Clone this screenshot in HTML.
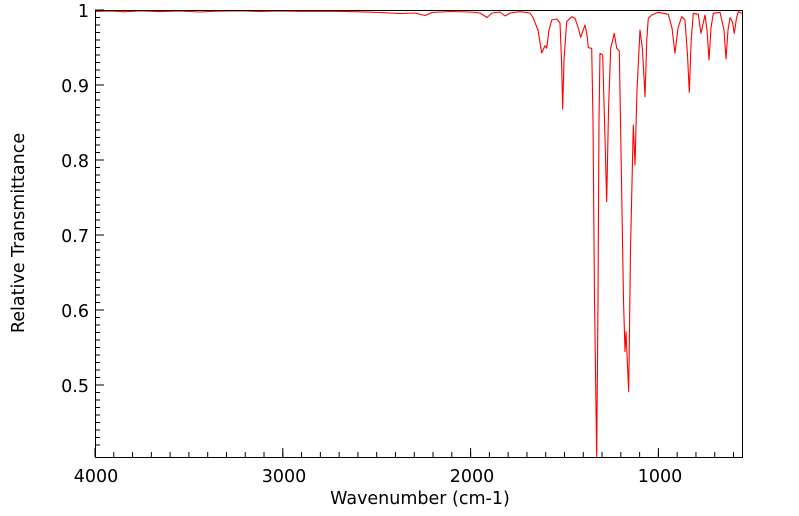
<!DOCTYPE html>
<html><head><meta charset="utf-8"><style>
html,body{margin:0;padding:0;background:#fff;}
svg{display:block;font-family:"DejaVu Sans","Liberation Sans",sans-serif;}
</style></head><body>
<svg width="799" height="516" viewBox="0 0 799 516" xmlns="http://www.w3.org/2000/svg">
<rect width="799" height="516" fill="#fff"/>
<polyline fill="none" stroke="#ff0000" stroke-width="1.1" stroke-linejoin="round" points="
95,11.5 110,11 125,11.8 140,10.8 160,11.6 180,11 200,12 215,11.2 240,10.8 260,11.5 280,11 300,11.3 330,11.2 360,11.8 380,12.5 400,13.5 415,13 425,15.5 432,12.5 450,11.5 470,12 480,13 487,17.5 492,13 500,12 505,16 510,13 520,11.7 530,13 533,17.7 538,30 541.7,53 545,45.7 546.7,48.3 549,30 551.7,20 556.7,19 560,23 561.5,60 562.7,109 564,60 566.7,21.7 571.7,16.7 575,18.3 578,27 580.7,37.3 585,25 587,35 588.3,47.7 591.7,48.3 593,120 594.5,300 596.7,457 598,300 599,120 600,53.3 602.7,55 604.5,120 606.7,201.7 608.5,110 610.7,48.3 614.3,33.3 616.7,48.3 619.3,51 621.5,180 623.5,300 625,351.7 626,331.7 628.7,391.7 630.5,250 633.3,125 635,165 637,90 640,30 642.5,50 645,96.7 646.8,40 648.3,18.3 651.7,15 658.3,12.3 668.3,14.3 672,28 675,53.3 678,28 681.7,16.7 685,20 687.5,55 689.3,92.3 691.2,40 693.3,13.3 698.3,14.3 701,33.3 705,15 707,30 709,60 711,28 713.3,13.3 720,12.3 724,30 726,59 728,30 730,17.7 732.5,22 734.3,33.3 736.5,18 738.3,11.7 742,13.3"/>
<g stroke="#000" stroke-width="1" fill="none">
<path d="M95,457v-5m18.78,5v-5m18.78,5v-5m18.78,5v-5m18.78,5v-5m18.78,5v-5m18.78,5v-5m18.78,5v-5m18.78,5v-5m18.78,5v-5m18.78,5v-5m18.78,5v-5m18.78,5v-5m18.78,5v-5m18.78,5v-5m18.78,5v-5m18.78,5v-5m18.78,5v-5m18.78,5v-5m18.78,5v-5m18.78,5v-5m18.78,5v-5m18.78,5v-5m18.78,5v-5m18.78,5v-5m18.78,5v-5m18.78,5v-5m18.78,5v-5m18.78,5v-5m18.78,5v-5m18.78,5v-5m18.78,5v-5m18.78,5v-5m18.78,5v-5m18.78,5v-5"/>
<path d="M95,457v-9M282.8,457v-9M470.6,457v-9M658.4,457v-9"/>
<path d="M95,10h5m-5,7.5h5m-5,7.5h5m-5,7.5h5m-5,7.5h5m-5,7.5h5m-5,7.5h5m-5,7.5h5m-5,7.5h5m-5,7.5h5m-5,7.5h5m-5,7.5h5m-5,7.5h5m-5,7.5h5m-5,7.5h5m-5,7.5h5m-5,7.5h5m-5,7.5h5m-5,7.5h5m-5,7.5h5m-5,7.5h5m-5,7.5h5m-5,7.5h5m-5,7.5h5m-5,7.5h5m-5,7.5h5m-5,7.5h5m-5,7.5h5m-5,7.5h5m-5,7.5h5m-5,7.5h5m-5,7.5h5m-5,7.5h5m-5,7.5h5m-5,7.5h5m-5,7.5h5m-5,7.5h5m-5,7.5h5m-5,7.5h5m-5,7.5h5m-5,7.5h5m-5,7.5h5m-5,7.5h5m-5,7.5h5m-5,7.5h5m-5,7.5h5m-5,7.5h5m-5,7.5h5m-5,7.5h5m-5,7.5h5m-5,7.5h5m-5,7.5h5m-5,7.5h5m-5,7.5h5m-5,7.5h5m-5,7.5h5m-5,7.5h5m-5,7.5h5m-5,7.5h5"/>
<path d="M95,10h9M95,85h9M95,160h9M95,235h9M95,310h9M95,385h9"/>
<rect x="95.5" y="10.5" width="647" height="447"/>
</g>
<g font-size="17.5" fill="#000" text-anchor="middle">
<text x="96" y="482">4000</text><text x="284" y="482">3000</text><text x="472" y="482">2000</text><text x="660" y="482">1000</text>
<text x="420" y="504">Wavenumber (cm-1)</text>
</g>
<g font-size="17.5" fill="#000" text-anchor="end">
<text x="89" y="17">1</text><text x="89" y="92">0.9</text><text x="89" y="167">0.8</text><text x="89" y="242">0.7</text><text x="89" y="317">0.6</text><text x="89" y="392">0.5</text>
</g>
<text transform="translate(24,233) rotate(-90)" font-size="17.5" text-anchor="middle" fill="#000">Relative Transmittance</text>
</svg>
</body></html>
